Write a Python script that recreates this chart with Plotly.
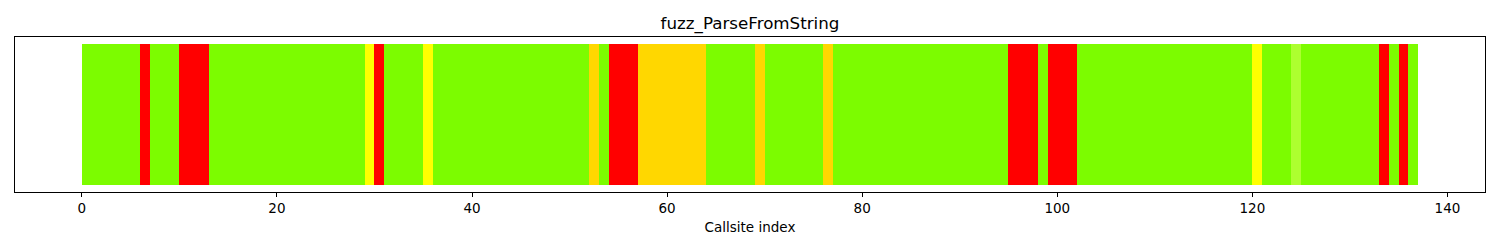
import plotly.graph_objects as go

# Segments of consecutive callsites sharing the same colour
seg_colors = ["#7CFC00", "#FF0000", "#7CFC00", "#FF0000", "#7CFC00", "#FFFF00", "#FF0000",
              "#7CFC00", "#FFFF00", "#7CFC00", "#FFD700", "#7CFC00", "#FF0000", "#FFD700",
              "#7CFC00", "#FFD700", "#7CFC00", "#FFD700", "#7CFC00", "#FF0000", "#7CFC00",
              "#FF0000", "#7CFC00", "#FFFF00", "#7CFC00", "#ADFF2F", "#7CFC00", "#FF0000",
              "#7CFC00", "#FF0000", "#7CFC00"]
seg_lengths = [6, 1, 3, 3, 16, 1, 1,
               4, 1, 16, 1, 1, 3, 7,
               5, 1, 6, 1, 18, 3, 1,
               3, 18, 1, 3, 1, 8, 1,
               1, 1, 1]

colors = []
for c, n in zip(seg_colors, seg_lengths):
    colors.extend([c] * n)
callsite_index = list(range(len(colors)))
heights = [1] * len(colors)

fig = go.Figure(go.Bar(
    x=callsite_index, y=heights, width=1, offset=0,
    marker=dict(color=colors, line=dict(width=0)),
    hoverinfo="x",
))

n = len(colors)
pad = 0.05 * n
fig.update_layout(
    width=1500, height=250,
    margin=dict(l=15, r=15, t=37, b=58),
    paper_bgcolor="white", plot_bgcolor="white",
    font=dict(family="DejaVu Sans", size=13.5, color="black"),
    title=dict(text="fuzz_ParseFromString", x=0.5, xanchor="center",
               y=1 - 23 / 250, yanchor="middle", font=dict(size=16.7)),
    showlegend=False,
    bargap=0,
    xaxis=dict(range=[-pad, n + pad], tickmode="array",
               tickvals=[0, 20, 40, 60, 80, 100, 120, 140],
               ticks="outside", ticklen=4, tickwidth=1, tickcolor="black",
               showline=True, linecolor="black", linewidth=1, mirror=True,
               showgrid=False, zeroline=False,
               title=dict(text="Callsite index", standoff=7, font=dict(size=13.5))),
    yaxis=dict(range=[-0.05, 1.05], showticklabels=False, ticks="",
               showline=True, linecolor="black", linewidth=1, mirror=True,
               showgrid=False, zeroline=False),
)

fig.write_html("out.html")
